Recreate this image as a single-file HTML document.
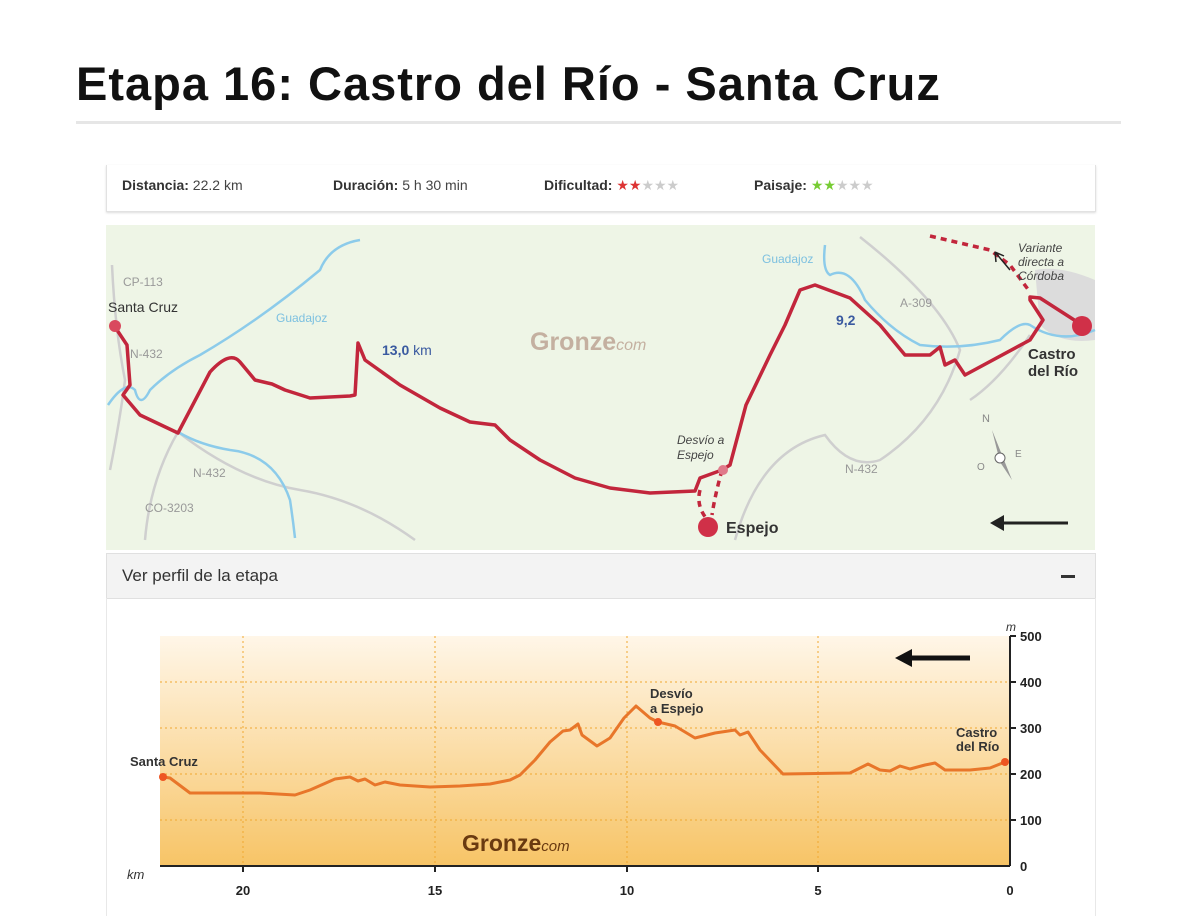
<!DOCTYPE html><html><head><meta charset="utf-8"><style>
body{margin:0;width:1197px;height:916px;background:#fff;font-family:"Liberation Sans",sans-serif;position:relative;overflow:hidden}
.t{position:absolute;left:76px;top:56px;font-size:47px;font-weight:bold;color:#111;letter-spacing:1px}
.hr{position:absolute;left:76px;top:121px;width:1045px;height:3px;background:#e6e6e6}
.info{position:absolute;left:106px;top:165px;width:988px;height:46px;border:1px solid #e2e2e2;border-top:none;box-shadow:0 1px 2px #ddd;font-size:14px;color:#444}
.info span{position:absolute;top:12px}
.info b{color:#333}
.hdr{position:absolute;left:106px;top:553px;width:988px;height:44px;background:#f3f3f3;border:1px solid #e0e0e0;font-size:17px;color:#333}
.prof{position:absolute;left:106px;top:598px;width:988px;height:318px;border-left:1px solid #e8e8e8;border-right:1px solid #e8e8e8}
</style></head><body>
<div class="t">Etapa 16: Castro del Río - Santa Cruz</div>
<div class="hr"></div>
<div class="info">
<span style="left:15px"><b>Distancia:</b> 22.2 km</span>
<span style="left:226px"><b>Duración:</b> 5 h 30 min</span>
<span style="left:437px"><b>Dificultad:</b> <span style="position:static;color:#d33">★★</span><span style="position:static;color:#ccc">★★★</span></span>
<span style="left:647px"><b>Paisaje:</b> <span style="position:static;color:#7c3">★★</span><span style="position:static;color:#ccc">★★★</span></span>
</div>
<svg style="position:absolute;left:0;top:0" width="1197" height="916">
<rect x="106" y="225" width="989" height="325" fill="#eef5e6"/>
<path d="M1035 270 Q1060 265 1095 280 L1095 340 Q1060 345 1040 325 Z" fill="#dcdcdc"/>
<g fill="none" stroke="#cfcfcf" stroke-width="2.5">
<path d="M112 265 Q115 330 125 380 Q120 420 110 470"/>
<path d="M178 432 Q150 480 145 540"/>
<path d="M178 432 Q240 480 300 490 Q360 500 415 540"/>
<path d="M735 540 Q760 450 825 435 Q850 470 880 460 Q940 420 960 350 Q940 300 860 237"/>
<path d="M1030 335 Q1000 380 970 400"/>
</g>
<g fill="none" stroke="#8ccbea" stroke-width="2.5">
<path d="M108 405 Q125 380 135 390 Q140 410 150 390 Q170 370 200 355 Q260 320 320 270 Q330 245 360 240"/>
<path d="M178 432 Q200 445 230 450 Q275 455 290 500 Q293 520 295 538"/>
<path d="M825 245 Q822 270 830 275 Q850 265 865 300 Q890 330 920 345 Q960 350 1000 340 Q1020 320 1030 325 Q1060 345 1095 330"/>
</g>
<path d="M115 327 L127 345 L130 385 L123 395 L140 415 L178 433 L210 372 Q230 350 240 362 L255 380 L272 384 L285 390 L310 398 L350 396 L355 395 L358 343 L365 360 L400 385 L440 408 L470 422 L495 425 L510 440 L540 460 L575 478 L610 488 L650 493 L695 491 L700 478 L722 470 L730 465 L738 435 L746 405 L770 355 L785 325 L800 290 L815 285 L850 298 L880 325 L905 355 L930 355 L940 347 L945 365 L955 360 L965 375 L1030 340 L1043 320 L1030 300 L1030 297 L1040 298 L1082 325" fill="none" stroke="#c2263c" stroke-width="3.5" stroke-linejoin="round"/>
<path d="M700 490 Q696 505 706 518 M722 470 Q715 495 712 515 M930 236 L990 250 L1010 265 L1030 292" fill="none" stroke="#c2263c" stroke-width="3.5" stroke-dasharray="6,5"/>
<circle cx="115" cy="326" r="6" fill="#d94a5e"/><circle cx="723" cy="470" r="5" fill="#e0798a"/>
<circle cx="708" cy="527" r="10" fill="#d03048"/><circle cx="1082" cy="326" r="10" fill="#d03048"/>
<g font-size="12" fill="#999"><text x="123" y="286">CP-113</text><text x="130" y="358">N-432</text><text x="193" y="477">N-432</text><text x="145" y="512">CO-3203</text><text x="900" y="307">A-309</text><text x="845" y="473">N-432</text></g>
<g font-size="12" fill="#7cc0e0"><text x="276" y="322">Guadajoz</text><text x="762" y="263">Guadajoz</text></g>
<text x="108" y="312" font-size="14" fill="#333">Santa Cruz</text>
<text x="382" y="355" font-size="14" fill="#3a5aa0"><tspan font-weight="bold">13,0</tspan> km</text>
<text x="836" y="325" font-size="14" font-weight="bold" fill="#3a5aa0">9,2</text>
<text x="530" y="350" font-size="25" font-weight="bold" fill="#c4b0a0">Gronze<tspan font-size="16" font-weight="normal" font-style="italic">com</tspan></text>
<g font-size="12" font-style="italic" fill="#444"><text x="677" y="444">Desvío a</text><text x="677" y="459">Espejo</text><text x="1018" y="252">Variante</text><text x="1018" y="266">directa a</text><text x="1018" y="280">Córdoba</text></g>
<path d="M1010 270 L995 252 M995 252 L996 262 M995 252 L1004 256" stroke="#222" stroke-width="1.5" fill="none"/>
<text x="726" y="533" font-size="16" font-weight="bold" fill="#333">Espejo</text>
<text x="1028" y="359" font-size="15" font-weight="bold" fill="#333">Castro</text><text x="1028" y="376" font-size="15" font-weight="bold" fill="#333">del Río</text>
<path d="M992 430 L1012 480 L1000 462 Z" fill="#999"/><circle cx="1000" cy="458" r="5" fill="#fff" stroke="#666"/>
<text x="982" y="422" font-size="11" fill="#888">N</text><text x="977" y="470" font-size="10" fill="#888">O</text><text x="1015" y="457" font-size="10" fill="#888">E</text>
<path d="M1068 523 L1000 523" stroke="#222" stroke-width="3"/><path d="M990 523 L1004 515 L1004 531Z" fill="#222"/>
</svg>
<div class="hdr"><span style="position:absolute;left:15px;top:12px">Ver perfil de la etapa</span><span style="position:absolute;right:20px;top:21px;width:14px;height:3px;background:#333"></span></div>
<div class="prof"></div>
<svg style="position:absolute;left:0;top:0" width="1197" height="916">
<defs><linearGradient id="g" x1="0" y1="0" x2="0" y2="1"><stop offset="0" stop-color="#fff6e8"/><stop offset="1" stop-color="#f7c466"/></linearGradient></defs>
<rect x="160" y="636" width="850" height="230" fill="url(#g)"/>
<g stroke="#f0a830" stroke-width="1" stroke-dasharray="2,3"><line x1="160" y1="682" x2="1010" y2="682"/><line x1="160" y1="728" x2="1010" y2="728"/><line x1="160" y1="774" x2="1010" y2="774"/><line x1="160" y1="820" x2="1010" y2="820"/><line x1="243" y1="636" x2="243" y2="866"/><line x1="435" y1="636" x2="435" y2="866"/><line x1="627" y1="636" x2="627" y2="866"/><line x1="818" y1="636" x2="818" y2="866"/></g>
<line x1="160" y1="866" x2="1010" y2="866" stroke="#222" stroke-width="2"/><line x1="1010" y1="636" x2="1010" y2="866" stroke="#222" stroke-width="2"/>
<g stroke="#222" stroke-width="2"><line x1="1010" y1="636" x2="1016" y2="636"/><line x1="1010" y1="682" x2="1016" y2="682"/><line x1="1010" y1="728" x2="1016" y2="728"/><line x1="1010" y1="774" x2="1016" y2="774"/><line x1="1010" y1="820" x2="1016" y2="820"/><line x1="243" y1="866" x2="243" y2="872"/><line x1="435" y1="866" x2="435" y2="872"/><line x1="627" y1="866" x2="627" y2="872"/><line x1="818" y1="866" x2="818" y2="872"/></g>
<g font-size="13" font-weight="bold" fill="#222"><text x="1020" y="641">500</text><text x="1020" y="687">400</text><text x="1020" y="733">300</text><text x="1020" y="779">200</text><text x="1020" y="825">100</text><text x="1020" y="871">0</text>
<text x="243" y="895" text-anchor="middle">20</text><text x="435" y="895" text-anchor="middle">15</text><text x="627" y="895" text-anchor="middle">10</text><text x="818" y="895" text-anchor="middle">5</text><text x="1010" y="895" text-anchor="middle">0</text></g>
<text x="127" y="879" font-size="13" font-style="italic" fill="#333">km</text><text x="1006" y="631" font-size="12" font-style="italic" fill="#333">m</text>
<polyline fill="none" stroke="#e8762a" stroke-width="3" stroke-linejoin="round" points="163,777 170,778 190,793 260,793 295,795 310,790 335,779 350,777 358,781 365,779 375,785 385,782 400,785 430,787 460,786 490,784 510,780 520,775 535,760 550,742 563,731 570,730 578,724 582,735 597,746 610,738 624,718 636,706 650,718 658,722 675,726 695,738 715,733 735,730 740,735 748,732 760,750 783,774 850,773 868,764 880,770 890,771 900,766 910,769 925,765 935,763 945,770 970,770 990,768 1005,762"/>
<circle cx="163" cy="777" r="4" fill="#e52"/><circle cx="658" cy="722" r="4" fill="#e52"/><circle cx="1005" cy="762" r="4" fill="#e52"/>
<g font-size="13" font-weight="bold" fill="#333"><text x="130" y="766">Santa Cruz</text><text x="650" y="698">Desvío</text><text x="650" y="713">a Espejo</text><text x="956" y="737">Castro</text><text x="956" y="751">del Río</text></g>
<text x="462" y="851" font-size="23" font-weight="bold" fill="#6a3a10">Gronze<tspan font-size="15" font-weight="normal" font-style="italic">com</tspan></text>
<path d="M970 658 L908 658" stroke="#111" stroke-width="5"/><path d="M895 658 L912 649 L912 667Z" fill="#111"/>
</svg>
</body></html>
